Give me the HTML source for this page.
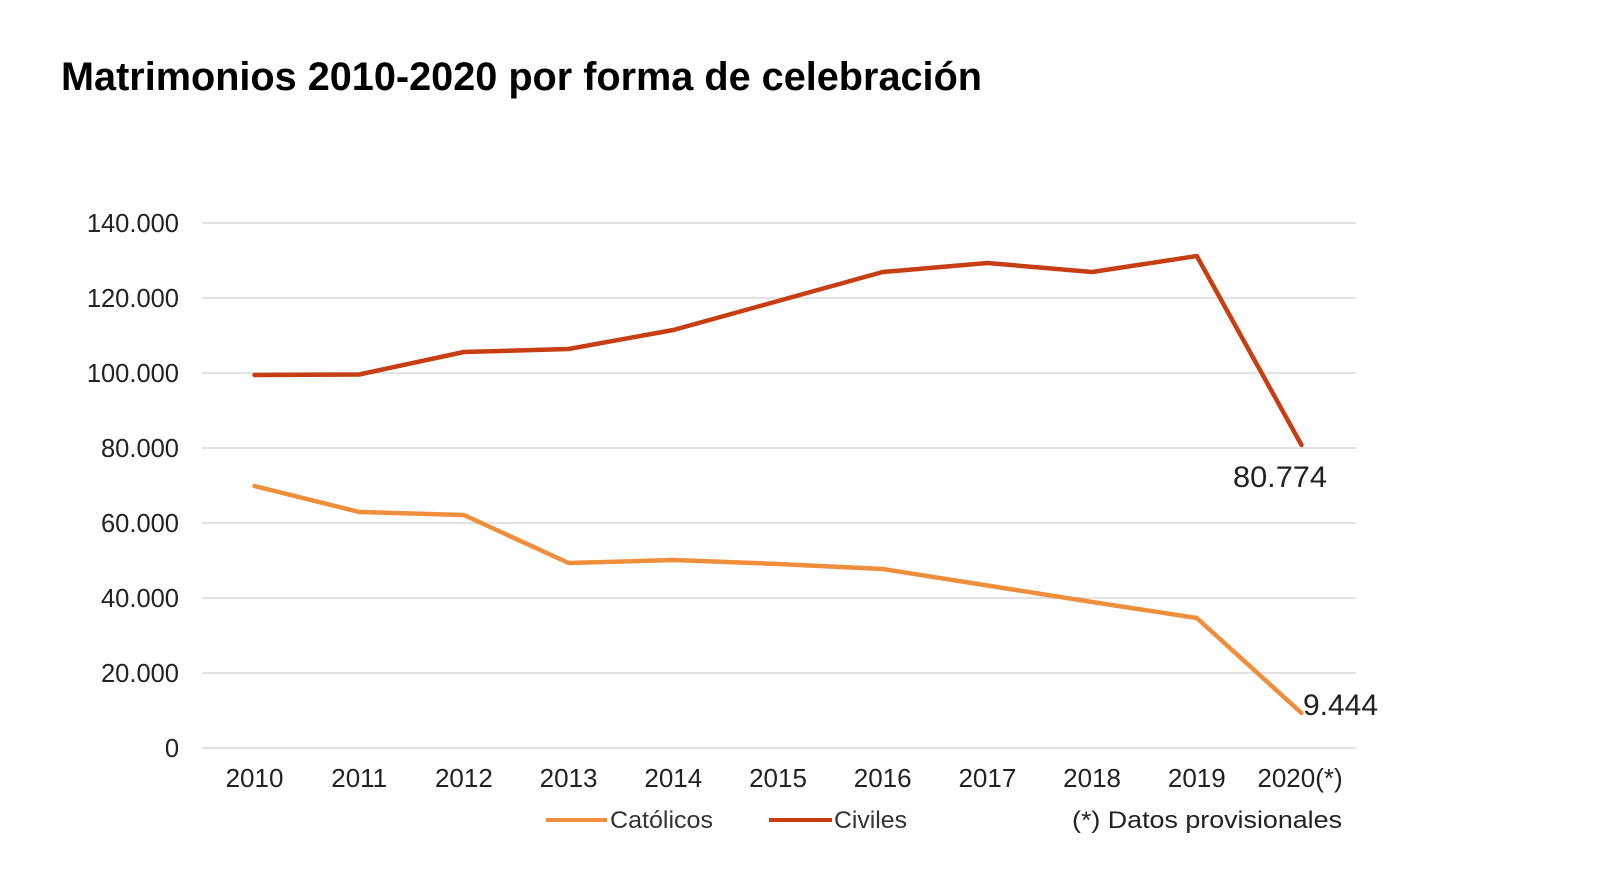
<!DOCTYPE html>
<html>
<head>
<meta charset="utf-8">
<style>
  html, body { margin: 0; padding: 0; background: #ffffff; }
  body { width: 1600px; height: 891px; overflow: hidden; }
  svg { display: block; font-family: "Liberation Sans", Arial, sans-serif; }
</style>
</head>
<body>
<svg width="1600" height="891" viewBox="0 0 1600 891" xmlns="http://www.w3.org/2000/svg">
  <rect x="0" y="0" width="1600" height="891" fill="#ffffff"/>

  <!-- Title -->
  <text x="61" y="90" font-size="40" font-weight="bold" fill="#000" textLength="921" lengthAdjust="spacingAndGlyphs">Matrimonios 2010-2020 por forma de celebración</text>

  <!-- Gridlines -->
  <g stroke="#e2e2e2" stroke-width="2">
    <line x1="202" y1="223" x2="1356" y2="223"/>
    <line x1="202" y1="298" x2="1356" y2="298"/>
    <line x1="202" y1="373" x2="1356" y2="373"/>
    <line x1="202" y1="448" x2="1356" y2="448"/>
    <line x1="202" y1="523" x2="1356" y2="523"/>
    <line x1="202" y1="598" x2="1356" y2="598"/>
    <line x1="202" y1="673" x2="1356" y2="673"/>
    <line x1="202" y1="748" x2="1356" y2="748"/>
  </g>

  <!-- Y axis labels -->
  <g font-size="25.5" fill="#222" text-anchor="end">
    <text x="179" y="232">140.000</text>
    <text x="179" y="307">120.000</text>
    <text x="179" y="382">100.000</text>
    <text x="179" y="457">80.000</text>
    <text x="179" y="532">60.000</text>
    <text x="179" y="607">40.000</text>
    <text x="179" y="682">20.000</text>
    <text x="179" y="757">0</text>
  </g>

  <!-- X axis labels -->
  <g font-size="26" fill="#222" text-anchor="middle">
    <text x="254.5" y="787">2010</text>
    <text x="359.2" y="787">2011</text>
    <text x="463.9" y="787">2012</text>
    <text x="568.6" y="787">2013</text>
    <text x="673.3" y="787">2014</text>
    <text x="778" y="787">2015</text>
    <text x="882.7" y="787">2016</text>
    <text x="987.4" y="787">2017</text>
    <text x="1092.1" y="787">2018</text>
    <text x="1196.8" y="787">2019</text>
    <text x="1300" y="787">2020(*)</text>
  </g>

  <!-- Católicos series -->
  <polyline fill="none" stroke="#ef8f3c" stroke-width="4.5" stroke-linejoin="round" stroke-linecap="round"
    points="254.5,486 359.2,512 463.9,515 568.6,563 673.3,560 778,564 882.7,569 987.4,585.5 1092.1,602 1196.8,618 1301.5,713"/>

  <!-- Civiles series -->
  <polyline fill="none" stroke="#c73e12" stroke-width="4.5" stroke-linejoin="round" stroke-linecap="round"
    points="254.5,375 359.2,374.5 463.9,352 568.6,349 673.3,330 778,301 882.7,272 987.4,263 1092.1,272 1196.8,256 1301.5,445"/>

  <!-- Data labels -->
  <g font-size="30" fill="#222">
    <text x="1233" y="487" textLength="94" lengthAdjust="spacingAndGlyphs">80.774</text>
    <text x="1303" y="715" textLength="75" lengthAdjust="spacingAndGlyphs">9.444</text>
  </g>

  <!-- Legend -->
  <line x1="546" y1="820" x2="607" y2="820" stroke="#ef8f3c" stroke-width="4"/>
  <text x="610" y="828" font-size="24" fill="#333" textLength="103" lengthAdjust="spacingAndGlyphs">Católicos</text>
  <line x1="769" y1="820" x2="832" y2="820" stroke="#c73e12" stroke-width="4"/>
  <text x="834" y="828" font-size="24" fill="#333" textLength="73" lengthAdjust="spacingAndGlyphs">Civiles</text>
  <text x="1072" y="828" font-size="24" fill="#222" textLength="270" lengthAdjust="spacingAndGlyphs">(*) Datos provisionales</text>
</svg>
</body>
</html>
